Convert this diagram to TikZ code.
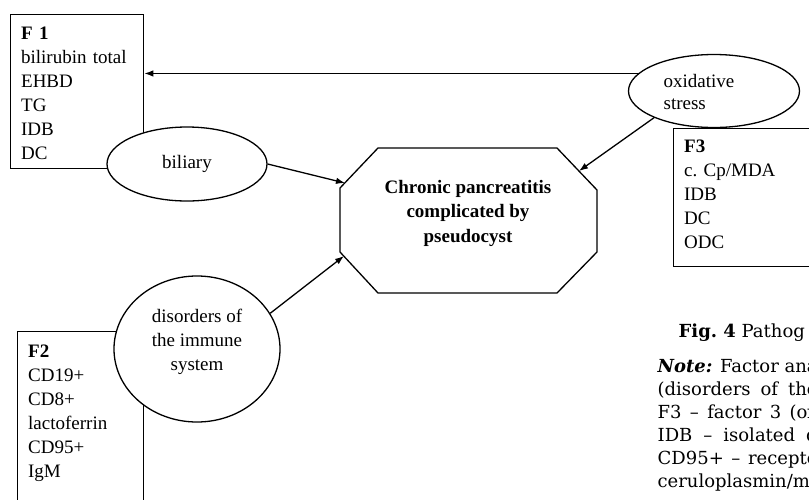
\documentclass[tikz,border=0pt]{standalone}
\usepackage{fontspec}
\setmainfont{Liberation Serif}
\newfontfamily\capfont{DejaVu Serif}
\usetikzlibrary{shapes.geometric, arrows.meta, positioning}

\begin{document}
\begin{tikzpicture}[x=1pt, y=-1pt, line width=1.3pt,
    fbox/.style={draw, rectangle, fill=white, anchor=north west, align=left,
        inner xsep=10.5pt, inner ysep=12pt, font=\fontsize{19}{24}\selectfont},
    fell/.style={draw, ellipse, fill=white, inner sep=0pt},
    ftxt/.style={inner sep=0pt, font=\fontsize{19}{24}\selectfont},
    arr/.style={-{Latex[length=9pt, width=6.5pt]}},
    captxt/.style={anchor=base west, inner sep=0pt, font=\capfont\fontsize{18}{23}\selectfont}]

    % page frame (picture is cut at the right and at the bottom)
    \useasboundingbox (0,0) rectangle (809,499);
    \clip (0,0) rectangle (809,499);

    % factor boxes
    \node[fbox, text width=112pt, text depth=117pt] (f1) at (10,14)
        {\textbf{F 1}\\bilirubin total\\EHBD\\TG\\IDB\\DC};
    \node[fbox, text width=105pt, text depth=150pt, inner ysep=13pt] (f2) at (17,331)
        {\textbf{F2}\\CD19+\\CD8+\\lactoferrin\\CD95+\\IgM};
    \node[fbox, text width=150pt, text depth=103pt, inner ysep=11pt] (f3) at (673,128)
        {\textbf{F3}\\c.\ Cp/MDA\\IDB\\DC\\ODC};

    % ellipses (drawn over the boxes)
    \node[fell, minimum width=160pt, minimum height=74pt] (bil) at (187,164) {};
    \node[ftxt] (bilt) at (bil.center) {biliary};
    \node[fell, minimum width=166pt, minimum height=146pt] (dis) at (197,349) {};
    \node[ftxt, align=center] (dist) at (197,342) {disorders of\\the immune\\system};
    \node[fell, minimum width=171pt, minimum height=73pt] (oxi) at (714,91) {};
    \node[ftxt, align=left, anchor=west, font=\fontsize{19}{22}\selectfont] (oxit) at (663,92)
        {oxidative\\stress};

    % central octagon
    \draw (378,148) -- (557,148) -- (597,190) -- (597,252) -- (557,293)
        -- (378,293) -- (340,252) -- (340,188) -- cycle;
    \node[ftxt, align=center, font=\bfseries\fontsize{19}{24.5}\selectfont] (cpt) at (468,213)
        {Chronic pancreatitis\\complicated by\\pseudocyst};
    \coordinate (tipA) at (345,183);
    \coordinate (tipB) at (579,171);
    \coordinate (tipC) at (344,256);

    % arrows
    \draw[arr] (oxi.167) -- (oxi.167 -| f1.east);
    \draw[arr] (bil.east) -- (tipA);
    \draw[arr] (oxi.204) -- (tipB);
    \draw[arr] (dis.26) -- (tipC);

    % caption (cut off by the page)
    \node[captxt] (fig) at (678,337) {\textbf{Fig.\ 4} Pathog};
    \node[captxt] (n1) at (657,372) {\makebox[160pt][s]{\textbf{\textit{Note:}} Factor ana}};
    \node[captxt] (n2) at (657,395) {\makebox[160pt][s]{(disorders of the}};
    \node[captxt] (n3) at (657,418) {\makebox[160pt][s]{F3 – factor 3 (ox}};
    \node[captxt] (n4) at (657,441) {\makebox[160pt][s]{IDB – isolated d}};
    \node[captxt] (n5) at (657,464) {\makebox[160pt][s]{CD95+ – recepto}};
    \node[captxt] (n6) at (657,487) {ceruloplasmin/m};

\end{tikzpicture}
\end{document}
